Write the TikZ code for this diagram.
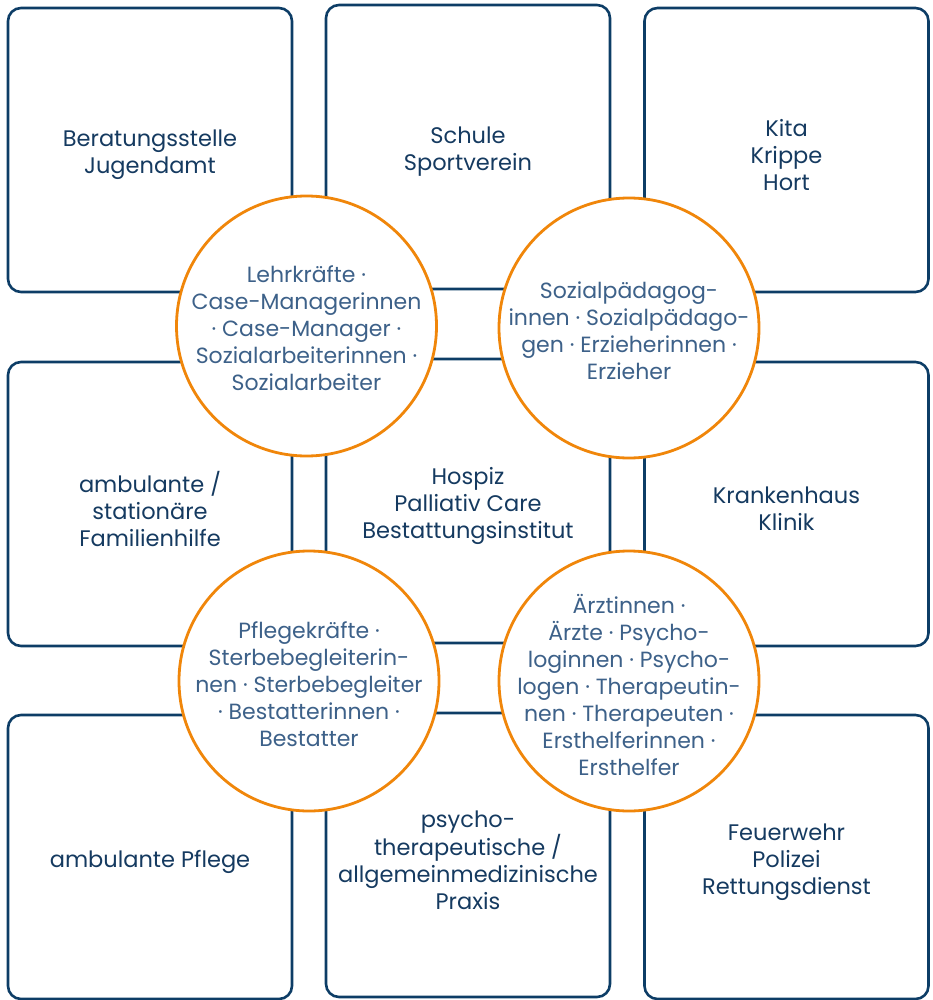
\documentclass[tikz,border=0pt]{standalone}
\usepackage{fontspec}
\setmainfont{Poppins}
\usepackage{xcolor}
\usepackage{tikz}
\definecolor{navy}{HTML}{0D3D66}
\definecolor{navytext}{HTML}{153A60}
\definecolor{ringtext}{HTML}{3D6189}
\definecolor{ringorange}{HTML}{F0860A}
\tikzset{panel/.style={draw=navy, line width=2.6pt, rounded corners=13pt,
    minimum width=284pt, minimum height=284pt}}
\tikzset{caption/.style={align=center, text=navytext,
    font=\fontsize{22.5}{27}\selectfont}}
\tikzset{ring/.style={circle, draw=ringorange, line width=2.8pt, fill=white,
    minimum size=260pt, inner sep=0pt}}
\tikzset{ringlabel/.style={align=center, text=ringtext,
    font=\fontsize{22}{27}\selectfont}}

\begin{document}
\begin{tikzpicture}[x=1pt, y=-1pt]
\useasboundingbox (0,0) rectangle (932,1000);
% outer grid
\node[panel] (tl) at (150,150) {};
\node[panel] (tm) at (468,147) {};
\node[panel] (tr) at (786.5,150) {};
\node[panel] (ml) at (150,504) {};
\node[panel] (mm) at (468,501) {};
\node[panel] (mr) at (786.5,504) {};
\node[panel] (bl) at (150,857) {};
\node[panel] (bm) at (468,855) {};
\node[panel] (br) at (786.5,857) {};

\node[caption] at ([yshift=-5pt]tl.center) {Beratungsstelle\\Jugendamt};
\node[caption] at ([yshift=-5pt]tm.center) {Schule\\Sportverein};
\node[caption] at ([yshift=-5pt]tr.center) {Kita\\Krippe\\Hort};
\node[caption] at ([yshift=-5pt]ml.center) {ambulante /\\stationäre\\Familienhilfe};
\node[caption] at ([yshift=-5pt]mm.center) {Hospiz\\Palliativ Care\\Bestattungsinstitut};
\node[caption] at ([yshift=-5pt]mr.center) {Krankenhaus\\Klinik};
\node[caption] at ([yshift=-5pt]bl.center) {ambulante Pflege};
\node[caption] at ([yshift=-5pt]bm.center) {psycho-\\therapeutische /\\allgemeinmedizinische\\Praxis};
\node[caption] at ([yshift=-5pt]br.center) {Feuerwehr\\Polizei\\Rettungsdienst};

% people
\node[ring] (c1) at (306.5,326) {};
\node[ring] (c2) at (629,328) {};
\node[ring] (c3) at (309,681) {};
\node[ring] (c4) at (629,681) {};

\node[ringlabel] at ([yshift=-2pt]c1.center) {Lehrkräfte ·\\Case-Managerinnen\\· Case-Manager ·\\Sozialarbeiterinnen ·\\Sozialarbeiter};
\node[ringlabel] at ([yshift=-3pt]c2.center) {Sozialpädagog-\\innen · Sozialpädago-\\gen · Erzieherinnen ·\\Erzieher};
\node[ringlabel] at ([yshift=-3pt]c3.center) {Pflegekräfte ·\\Sterbebegleiterin-\\nen · Sterbebegleiter\\· Bestatterinnen ·\\Bestatter};
\node[ringlabel] at ([yshift=-4pt]c4.center) {Ärztinnen ·\\Ärzte · Psycho-\\loginnen · Psycho-\\logen · Therapeutin-\\nen · Therapeuten ·\\Ersthelferinnen ·\\Ersthelfer};
\end{tikzpicture}
\end{document}
